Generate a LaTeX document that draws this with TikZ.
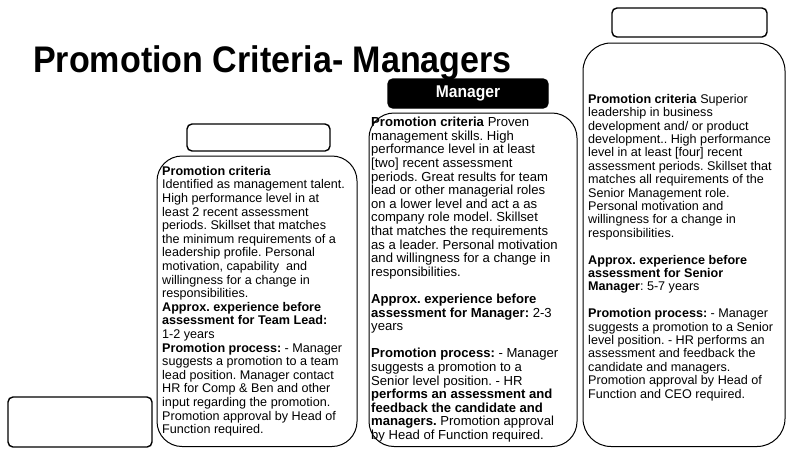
\documentclass[tikz,border=0pt]{standalone}
\usepackage{fontspec}
\setmainfont{Liberation Sans}
\usetikzlibrary{positioning}
\frenchspacing

\begin{document}
\begin{tikzpicture}[x=1pt,y=-1pt,
jar/.style ={draw, line width=1pt, rounded corners=25pt, inner sep=0pt},
lid/.style ={draw, line width=1.4pt, rounded corners=5pt, inner sep=0pt},
crit/.style ={anchor=north west, inner sep=0pt, align=left,
font=\fontsize{12.6}{13.6}\selectfont}]

\useasboundingbox (0,0) rectangle (786,448);

\node[anchor=base west, inner sep=0pt, font=\bfseries\fontsize{37}{42}\selectfont] (title) at (33,72) {\scalebox{0.92}[1]{Promotion Criteria- Managers}};

\node[lid, minimum width=144pt, minimum height=50pt] (junior) at (80,422) {};

\node[lid, minimum width=143pt, minimum height=27pt] (tlhead) at (258.5,137.5) {};
\node[jar, minimum width=200pt, minimum height=290.5pt] (tlbody) at (257,301.25) {};

\node[lid, fill=black, text=white, font=\bfseries\fontsize{17}{18}\selectfont,
minimum width=160pt, minimum height=29pt] (mghead) at (468,93.5) {\scalebox{0.92}[1]{Manager}};
\node[jar, minimum width=208pt, minimum height=333.5pt] (mgbody) at (473,279.75) {};

\node[lid, minimum width=155pt, minimum height=29pt] (smhead) at (689.5,22.5) {};
\node[jar, rounded corners=28pt, minimum width=202pt, minimum height=403.5pt] (smbody) at (684,244.75) {};

\node[crit] (tltext) at (162,166) {\textbf{Promotion criteria}\\
Identified as management talent.\\
High performance level in at\\
least 2 recent assessment\\
periods. Skillset that matches\\
the minimum requirements of a\\
leadership profile. Personal\\
motivation, capability\ \ and\\
willingness for a change in\\
responsibilities.\\
\textbf{Approx. experience before}\\
\textbf{assessment for Team Lead:}\\
1-2 years\\
\textbf{Promotion process:} - Manager\\
suggests a promotion to a team\\
lead position. Manager contact\\
HR for Comp \& Ben and other\\
input regarding the promotion.\\
Promotion approval by Head of\\
Function required.};

\node[crit, font=\fontsize{13.1}{13.6}\selectfont] (mgtext) at (371,117) {\textbf{Promotion criteria} Proven\\
management skills. High\\
performance level in at least\\
{[two]} recent assessment\\
periods. Great results for team\\
lead or other managerial roles\\
on a lower level and act a as\\
company role model. Skillset\\
that matches the requirements\\
as a leader. Personal motivation\\
and willingness for a change in\\
responsibilities.\\[13.6pt]
\textbf{Approx. experience before}\\
\textbf{assessment for Manager:} 2-3\\
years\\[13.6pt]
\textbf{Promotion process:} - Manager\\
suggests a promotion to a\\
Senior level position. - HR\\
\textbf{performs an assessment and}\\
\textbf{feedback the candidate and}\\
\textbf{managers.} Promotion approval\\
by Head of Function required.};

\node[crit, font=\fontsize{12.6}{13.4}\selectfont] (smtext) at (588,94) {\textbf{Promotion criteria} Superior\\
leadership in business\\
development and/ or product\\
development.. High performance\\
level in at least [four] recent\\
assessment periods. Skillset that\\
matches all requirements of the\\
Senior Management role.\\
Personal motivation and\\
willingness for a change in\\
responsibilities.\\[13.4pt]
\textbf{Approx. experience before}\\
\textbf{assessment for Senior}\\
\textbf{Manager}: 5-7 years\\[13.4pt]
\textbf{Promotion process:} - Manager\\
suggests a promotion to a Senior\\
level position. - HR performs an\\
assessment and feedback the\\
candidate and managers.\\
Promotion approval by Head of\\
Function and CEO required.};

\end{tikzpicture}
\end{document}
